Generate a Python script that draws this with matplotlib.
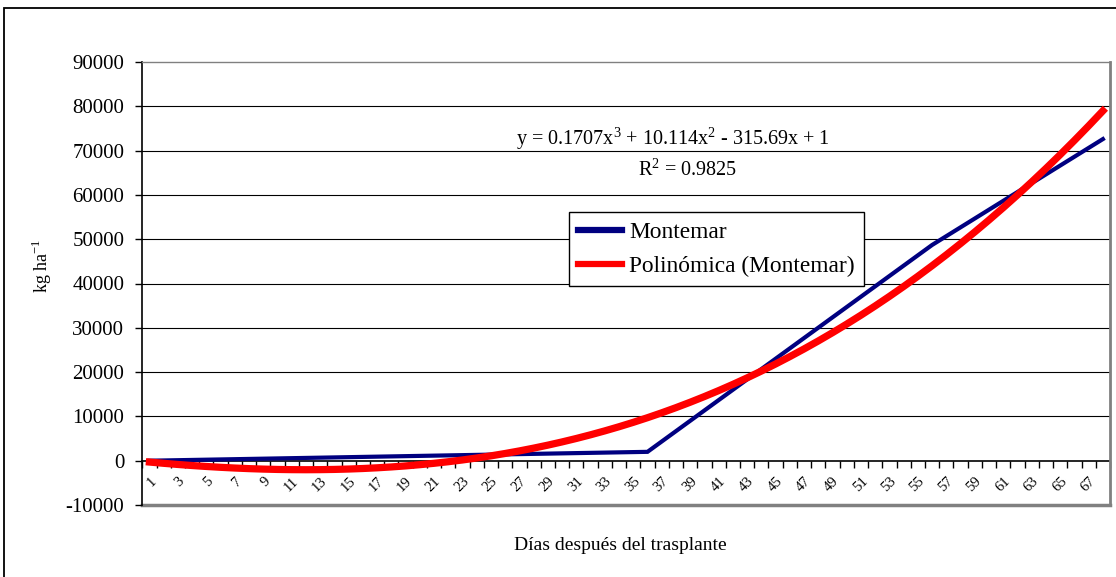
import numpy as np
import matplotlib
matplotlib.use("Agg")
import matplotlib.pyplot as plt
from matplotlib.patches import Rectangle
from matplotlib.ticker import FixedLocator

plt.rcParams['font.family'] = ['Liberation Serif', 'DejaVu Serif']

# Montemar measured points (day index, kg/ha)
days = [1, 36, 56, 68]
montemar = [0, 2000, 48700, 72600]

# polynomial trend line shown on the chart
poly_coef = [0.1707, 10.114, -315.69, 1]
r2_text = "0.9825"
n_days = 68

y_ticks = list(range(-10000, 90001, 10000))
x_labels = list(range(1, 68, 2))

W, H = 1116, 577
fig = plt.figure(figsize=(W / 100, H / 100), dpi=100)
ax = fig.add_axes([142.3 / W, 1 - 505 / H, (1110 - 142.3) / W, (505 - 62) / H])

# outer chart border
fig.patches.append(Rectangle((4 / W, -0.05), 1.05, 1.05 - 8 / H,
                             transform=fig.transFigure, fill=False,
                             ec='black', lw=1.3))

trend_x = np.arange(1, n_days + 1)
trend_y = np.polyval(poly_coef, trend_x)

ax.plot(days, montemar, color='#000080', lw=3.0, label='Montemar',
        solid_joinstyle='miter', zorder=3)
ax.plot(trend_x, trend_y, color='#FF0000', lw=5.2, label='Polinómica (Montemar)',
        zorder=4)

ax.set_xlim(0.5, n_days + 0.5)
ax.set_ylim(-10000, 90000)

# horizontal gridlines
for v in y_ticks[1:-1]:
    if v != 0:
        ax.axhline(v, color='black', lw=0.8, zorder=1)

ax.set_yticks(y_ticks)
ax.set_yticklabels([str(v) for v in y_ticks], fontsize=15)
ax.tick_params(axis='y', direction='out', length=5, width=1, pad=8)

ax.spines['bottom'].set_position(('data', 0))
ax.spines['bottom'].set_zorder(2)
ax.spines['left'].set_linewidth(1.2)
ax.spines['bottom'].set_linewidth(1.2)
ax.spines['top'].set_color('#808080')
ax.spines['right'].set_color('#808080')
ax.spines['right'].set_linewidth(2)
ax.spines['top'].set_linewidth(1)
# plot-area bottom edge at -10000
ax.axhline(-10000, color='#808080', lw=2.5, zorder=1, clip_on=False)

ax.set_xticks(x_labels)
ax.set_xticklabels([str(v) for v in x_labels], fontsize=10.5)
ax.xaxis.set_minor_locator(FixedLocator(np.arange(0.5, n_days + 1, 1)))
ax.tick_params(axis='x', which='major', length=0, pad=10)
ax.tick_params(axis='x', which='minor', direction='out', length=5, width=1)
for lab in ax.get_xticklabels():
    lab.set_rotation(45)
    lab.set_ha('right')
    lab.set_va('top')
    lab.set_rotation_mode('anchor')

fig.text(42 / W, 1 - 266 / H, 'kg ha$^{\\mathregular{-1}}$', fontsize=13,
         rotation=90, ha='center', va='center')
fig.text(620 / W, 1 - 545 / H, 'Días después del trasplante', fontsize=14,
         ha='center', va='center')

fig.text(673 / W, 1 - 139 / H,
         'y = 0.1707x$^{\\mathregular{3}}$ + 10.114x$^{\\mathregular{2}}$ - 315.69x + 1',
         fontsize=14.5, ha='center', va='center')
fig.text(688 / W, 1 - 170 / H, 'R$^{\\mathregular{2}}$ = ' + r2_text,
         fontsize=14.5, ha='center', va='center')

leg = ax.legend(loc='upper left', bbox_to_anchor=((569 - 142.3) / 967.7, (505 - 212) / 443),
                fontsize=16.8, frameon=True, fancybox=False, edgecolor='black',
                framealpha=1, borderpad=0.4, handlelength=1.85, handletextpad=0.33,
                labelspacing=0.55, borderaxespad=0)
leg.get_frame().set_linewidth(1.0)
for h in leg.get_lines():
    h.set_linewidth(4.5)

fig.savefig('out.png', dpi=100)
